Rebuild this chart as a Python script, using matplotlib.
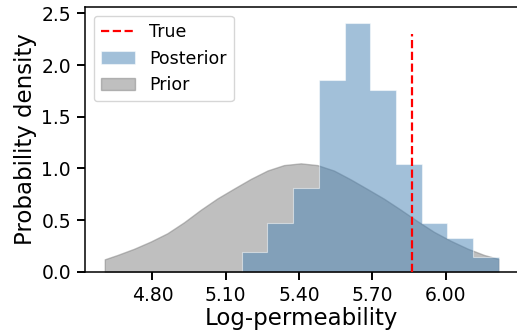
import matplotlib
matplotlib.use("Agg")
import matplotlib.pyplot as plt
import numpy as np

# Posterior histogram (bin edges and sample counts, 200 samples)
bin_edges = [5.165, 5.270, 5.376, 5.481, 5.586, 5.692, 5.797, 5.902, 6.007, 6.113, 6.218]
bin_counts = [4, 10, 17, 39, 51, 37, 22, 10, 7, 3]

# Prior density curve
prior_x = [4.605, 4.657, 4.725, 4.793, 4.861, 4.929, 4.998, 5.066, 5.134, 5.202,
           5.271, 5.338, 5.407, 5.475, 5.543, 5.611, 5.680, 5.748, 5.816, 5.884,
           5.952, 6.020, 6.089, 6.157, 6.217]
prior_y = [0.120, 0.162, 0.222, 0.292, 0.372, 0.478, 0.600, 0.710, 0.805, 0.898,
           0.980, 1.032, 1.049, 1.032, 0.979, 0.894, 0.800, 0.706, 0.600, 0.490,
           0.386, 0.300, 0.224, 0.162, 0.123]

true_value = 5.861

xticks = [4.80, 5.10, 5.40, 5.70, 6.00]
yticks = [0.0, 0.5, 1.0, 1.5, 2.0, 2.5]

fig = plt.figure(figsize=(5.17, 3.35), dpi=100)
ax = fig.add_axes([85 / 517, (335 - 271.7) / 335, 433.5 / 517, (271.7 - 7.3) / 335])

prior = ax.fill_between(prior_x, prior_y, 0, color="gray", alpha=0.5,
                        linewidth=1.0, zorder=1, label="Prior")
centers = [(bin_edges[i] + bin_edges[i + 1]) / 2 for i in range(len(bin_counts))]
_, _, post = ax.hist(centers, bins=bin_edges, weights=bin_counts, density=True,
                     histtype="stepfilled", facecolor="steelblue", alpha=0.5,
                     edgecolor="white", linewidth=0.8, zorder=2, label="Posterior")
true_line = ax.axvline(true_value, ymin=0, ymax=0.9, color="red", linestyle="--",
                       linewidth=1.6, zorder=3, label="True")

ax.set_xlim(4.524, 6.298)
ax.set_ylim(0, 2.56)
ax.set_xticks(xticks)
ax.set_xticklabels([f"{t:.2f}" for t in xticks])
ax.set_yticks(yticks)
ax.set_yticklabels([f"{t:.1f}" for t in yticks])

ax.tick_params(axis="both", labelsize=13.5, length=6, width=1.4, pad=4)
for s in ax.spines.values():
    s.set_linewidth(1.1)

ax.set_xlabel("Log-permeability", fontsize=16.5, labelpad=2)
ax.set_ylabel("Probability density", fontsize=16.5, labelpad=3)

ax.legend(handles=[true_line, post[0], prior], labels=["True", "Posterior", "Prior"],
          loc="upper left", fontsize=12.5, frameon=True, borderaxespad=0.5)

fig.savefig("out.png", dpi=100)
